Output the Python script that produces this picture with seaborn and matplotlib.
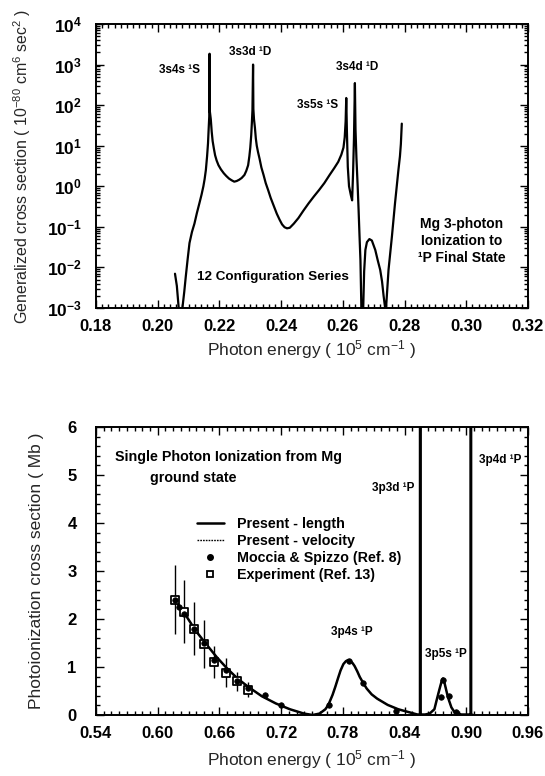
import numpy as np
import pandas as pd
import matplotlib
matplotlib.use("Agg")
import matplotlib.pyplot as plt
import seaborn as sns
from matplotlib.ticker import MultipleLocator, LogLocator, FuncFormatter, NullFormatter, FormatStrFormatter
from matplotlib.lines import Line2D

# ---------------- data ----------------
# Top panel: Mg 3-photon generalized cross section (10^-80 cm^6 s^2)
three_x = [0.2056, 0.2062, 0.2068, 0.2074,
           0.2080, 0.2086, 0.2091, 0.2097, 0.2103, 0.2111, 0.2119, 0.2127, 0.2135, 0.2142,
           0.2148, 0.2152, 0.2156, 0.2160, 0.2163, 0.2165, 0.2167, 0.2168,
           0.2169, 0.2172, 0.2175, 0.2178, 0.2182, 0.2186, 0.2191, 0.2197, 0.2205, 0.2214,
           0.2222, 0.2231, 0.2240, 0.2248, 0.2256, 0.2264, 0.2272, 0.2281, 0.2287, 0.2293,
           0.2297, 0.2300, 0.2303, 0.2305, 0.2307, 0.2309,
           0.2310, 0.2312, 0.2315, 0.2318, 0.2321, 0.2325, 0.2330, 0.2336, 0.2343, 0.2350,
           0.2358, 0.2366, 0.2376, 0.2386, 0.2395, 0.2403, 0.2411, 0.2419, 0.2428, 0.2441,
           0.2456, 0.2472, 0.2489, 0.2506, 0.2523, 0.2540, 0.2557, 0.2572, 0.2585, 0.2595,
           0.2602, 0.2606, 0.2609, 0.2611,
           0.2613, 0.2616, 0.2620, 0.2626, 0.2630, 0.2633, 0.2636, 0.2639,
           0.2641, 0.2644, 0.2648, 0.2651, 0.2654, 0.2657, 0.2660, 0.2663,
           0.2666, 0.2669, 0.2673, 0.2678, 0.2686, 0.2694, 0.2705, 0.2713, 0.2721, 0.2727,
           0.2732, 0.2737, 0.2738,
           0.2740, 0.2748, 0.2759, 0.2769, 0.2780, 0.2785, 0.2788, 0.2791]
three_y = [7.0e-3, 3.5e-3, 1.0e-3, 1.0e-5,
           1.0e-3, 2.5e-3, 6.0e-3, 1.6e-2, 4.0e-2, 7.5e-2, 0.12, 0.22, 0.38, 0.62,
           1.0, 1.5, 2.5, 5.5, 11.5, 25, 52, 1850,
           70, 45, 22, 13, 8.5, 5.8, 4.3, 3.3, 2.6, 2.1,
           1.8, 1.55, 1.4, 1.3, 1.35, 1.45, 1.6, 1.9, 2.4, 3.3,
           5.5, 9.0, 18, 35, 75, 1000,
           80, 45, 28, 15, 10, 7.0, 4.8, 2.9, 1.9, 1.2,
           0.8, 0.52, 0.33, 0.21, 0.15, 0.115, 0.098, 0.092, 0.095, 0.12,
           0.165, 0.25, 0.38, 0.56, 0.81, 1.2, 1.9, 2.8, 4.0, 6.0,
           9.0, 16, 40, 150,
           25, 3.0, 1.0, 0.6, 0.45, 2.0, 15, 350,
           25, 5.0, 1.0, 0.26, 0.06, 0.015, 1.0e-3, 1.0e-5,
           1.0e-3, 8.0e-3, 2.7e-2, 4.2e-2, 5.0e-2, 4.6e-2, 2.7e-2, 1.5e-2, 8.7e-3, 4.5e-3,
           2.0e-3, 1.0e-3, 1.0e-5,
           1.0e-3, 8.7e-3, 5.8e-2, 0.38, 2.5, 5.5, 11, 35]
top_labels = ["3s4s \u00b9S", "3s3d \u00b9D", "3s5s \u00b9S", "3s4d \u00b9D"]
top_label_x = [0.2072, 0.2299, 0.2519, 0.2646]
top_label_y = [740, 2040, 100, 870]

# Bottom panel: single-photon ionization cross section (Mb)
single_x = [0.6164, 0.6266, 0.6368, 0.6470, 0.6572, 0.6674, 0.6776, 0.6878, 0.7013, 0.7149,
            0.7285, 0.7421, 0.7506, 0.7574, 0.7630, 0.7659, 0.7700, 0.7727, 0.7755, 0.7778,
            0.7805, 0.7829, 0.7850, 0.7870, 0.7895, 0.7914, 0.7940, 0.7965, 0.8000, 0.8032,
            0.8080, 0.8134, 0.8236, 0.8338, 0.8440, 0.8525, 0.8550, 0.8552, 0.8554, 0.8600,
            0.8644, 0.8690, 0.8712, 0.8730, 0.8746, 0.8760, 0.8773, 0.8785, 0.8797, 0.8815,
            0.8831, 0.8855, 0.8882, 0.8950, 0.9043, 0.9045, 0.9047, 0.9068]
length_y = [2.41, 2.10, 1.76, 1.48, 1.21, 0.97, 0.76, 0.59, 0.39, 0.24,
            0.12, 0.03, 0.0, 0.03, 0.12, 0.21, 0.42, 0.59, 0.78, 0.93,
            1.06, 1.12, 1.145, 1.13, 1.08, 1.02, 0.91, 0.79, 0.66, 0.55,
            0.43, 0.34, 0.21, 0.12, 0.06, 0.01, 0.01, 40.0, 0.01, 0.01,
            0.03, 0.12, 0.31, 0.46, 0.59, 0.70, 0.76, 0.70, 0.59, 0.43,
            0.31, 0.16, 0.07, 0.01, 0.01, 40.0, 0.01, 0.0]
velocity_y = [2.41, 2.10, 1.76, 1.48, 1.21, 0.97, 0.76, 0.59, 0.39, 0.24,
              0.12, 0.03, 0.0, 0.03, 0.12, 0.21, 0.42, 0.59, 0.78, 0.93,
              1.06, 1.12, 1.145, 1.13, 1.08, 1.02, 0.91, 0.79, 0.66, 0.55,
              0.43, 0.34, 0.21, 0.12, 0.06, 0.01, 0.01, 40.0, 0.01, 0.01,
              0.03, 0.12, 0.31, 0.46, 0.59, 0.70, 0.76, 0.70, 0.59, 0.43,
              0.31, 0.16, 0.07, 0.01, 0.01, 40.0, 0.01, 0.0]
ms_x = [0.617, 0.621, 0.626, 0.635, 0.645, 0.655, 0.666, 0.677, 0.688, 0.704, 0.720,
        0.767, 0.786, 0.800, 0.832, 0.875, 0.877, 0.883, 0.890]
ms_y = [2.40, 2.25, 2.10, 1.80, 1.50, 1.15, 0.93, 0.70, 0.56, 0.42, 0.21,
        0.21, 1.13, 0.66, 0.08, 0.37, 0.73, 0.40, 0.07]
exp_x = [0.617, 0.626, 0.635, 0.645, 0.655, 0.666, 0.677, 0.688]
exp_y = [2.40, 2.15, 1.80, 1.47, 1.10, 0.88, 0.70, 0.53]
exp_err = [0.72, 0.66, 0.55, 0.50, 0.33, 0.30, 0.20, 0.16]
bottom_labels = ["3p4s \u00b9P", "3p3d \u00b9P", "3p5s \u00b9P", "3p4d \u00b9P"]
bottom_label_x = [0.7889, 0.8288, 0.8803, 0.9328]
bottom_label_y = [1.73, 4.73, 1.27, 5.31]
legend_labels = ["Present - length", "Present - velocity",
                 "Moccia & Spizzo (Ref. 8)", "Experiment (Ref. 13)"]

# ---------------- style ----------------
sns.set_theme(style="white")
plt.rcParams["font.family"] = ["Liberation Sans", "DejaVu Sans"]
plt.rcParams["font.weight"] = "bold"
plt.rcParams["mathtext.fontset"] = "custom"
plt.rcParams["mathtext.rm"] = "Liberation Sans"
plt.rcParams["mathtext.it"] = "Liberation Sans:italic"
plt.rcParams["mathtext.bf"] = "Liberation Sans:bold"
plt.rcParams["mathtext.default"] = "regular"
plt.rcParams["axes.edgecolor"] = "black"
plt.rcParams["text.color"] = "black"

fig = plt.figure(figsize=(5.45, 7.76), dpi=100)
W, H = 545.0, 776.0
L, R = 96.0, 528.0
ax1 = fig.add_axes([L / W, 1 - 308 / H, (R - L) / W, (308 - 24) / H])
ax2 = fig.add_axes([L / W, 1 - 715 / H, (R - L) / W, (715 - 427) / H])

for ax in (ax1, ax2):
    ax.set_facecolor("white")
    for s in ax.spines.values():
        s.set_linewidth(1.4)
        s.set_color("black")

# ---------------- top panel ----------------
df_top = pd.DataFrame({"x": three_x, "y": three_y})
ax1.set_yscale("log")
sns.lineplot(data=df_top, x="x", y="y", ax=ax1, sort=False, estimator=None,
             color="black", linewidth=1.6)
ax1.set_xlim(0.18, 0.32)
ax1.set_ylim(1e-3, 1e4)
ax1.xaxis.set_major_locator(MultipleLocator(0.02))
ax1.xaxis.set_minor_locator(MultipleLocator(0.002))
ax1.xaxis.set_major_formatter(FormatStrFormatter("%.2f"))
ax1.yaxis.set_major_locator(LogLocator(base=10, numticks=20))
ax1.yaxis.set_minor_locator(LogLocator(base=10, subs=np.arange(2, 10), numticks=40))
ax1.yaxis.set_minor_formatter(NullFormatter())
ax1.yaxis.set_major_formatter(FuncFormatter(
    lambda v, p: r"$\mathregular{10^{%d}}$" % int(round(np.log10(v)))))
ax1.set_xlabel("Photon energy ( 10$^{5}$ cm$^{-1}$ )", fontsize=12.5, fontweight="normal")
ax1.set_ylabel("Generalized cross section ( 10$^{-80}$ cm$^{6}$ sec$^{2}$ )",
               fontsize=11.5, fontweight="normal")
ax1.xaxis.set_label_coords(0.5, -0.105)
ax1.yaxis.set_label_coords(-0.145, 0.5)

for t, x, y in zip(top_labels, top_label_x, top_label_y):
    ax1.text(x, y, t, fontsize=8.5, ha="center", va="center", fontweight="bold")
ax1.text(0.2374, 5.8e-3, "12 Configuration Series", fontsize=9.7, ha="center",
         va="center", fontweight="bold")
ax1.text(0.2986, 0.045, "Mg 3-photon\nIonization to\n\u00b9P Final State", fontsize=10,
         ha="center", va="center", multialignment="center", linespacing=1.25,
         fontweight="bold")

# ---------------- bottom panel ----------------
df_len = pd.DataFrame({"x": single_x, "y": length_y})
df_vel = pd.DataFrame({"x": single_x, "y": velocity_y})
sns.lineplot(data=df_len, x="x", y="y", ax=ax2, sort=False, estimator=None,
             color="black", linewidth=1.8)
sns.lineplot(data=df_vel, x="x", y="y", ax=ax2, sort=False, estimator=None,
             color="black", linewidth=0.8, linestyle=(0, (1.5, 1.0)))
ax2.errorbar(exp_x, exp_y, yerr=exp_err, fmt="none", ecolor="black", elinewidth=1.0,
             capsize=0)
sns.scatterplot(x=exp_x, y=exp_y, ax=ax2, marker="s", s=28, facecolor="white",
                edgecolor="black", linewidth=1.3, zorder=4)
sns.scatterplot(x=ms_x, y=ms_y, ax=ax2, marker="o", s=16, color="black",
                edgecolor="black", linewidth=0.5, zorder=5)
ax2.set_xlim(0.54, 0.96)
ax2.set_ylim(0, 6)
ax2.xaxis.set_major_locator(MultipleLocator(0.06))
ax2.xaxis.set_minor_locator(MultipleLocator(0.0075))
ax2.xaxis.set_major_formatter(FormatStrFormatter("%.2f"))
ax2.yaxis.set_major_locator(MultipleLocator(1))
ax2.yaxis.set_minor_locator(MultipleLocator(0.2))
ax2.yaxis.set_major_formatter(FormatStrFormatter("%d"))
ax2.set_xlabel("Photon energy ( 10$^{5}$ cm$^{-1}$ )", fontsize=12.5, fontweight="normal")
ax2.set_ylabel("Photoionization cross section ( Mb )", fontsize=12.5, fontweight="normal")
ax2.xaxis.set_label_coords(0.5, -0.115)
ax2.yaxis.set_label_coords(-0.12, 0.5)

ax2.text(0.5585, 5.375, "Single Photon Ionization from Mg", fontsize=10.3,
         ha="left", va="center", fontweight="bold")
ax2.text(0.5925, 4.94, "ground state", fontsize=10.3, ha="left", va="center",
         fontweight="bold")
for t, x, y in zip(bottom_labels, bottom_label_x, bottom_label_y):
    ax2.text(x, y, t, fontsize=8.5, ha="center", va="center", fontweight="bold")

handles = [
    Line2D([], [], color="black", linewidth=1.8),
    Line2D([], [], color="black", linewidth=1.0, linestyle=(0, (1.2, 0.8))),
    Line2D([], [], color="black", marker="o", linestyle="none", markersize=4),
    Line2D([], [], color="black", marker="s", linestyle="none", markersize=5,
           markerfacecolor="white", markeredgewidth=1.3),
]
ax2.legend(handles, legend_labels, loc="upper left", bbox_to_anchor=(0.233, 0.688),
           frameon=False, fontsize=10.3, handlelength=1.9, handletextpad=0.9,
           labelspacing=0.22, borderpad=0, borderaxespad=0)

# ---------------- ticks ----------------
for ax in (ax1, ax2):
    ax.tick_params(which="both", direction="in", top=True, right=True,
                   bottom=True, left=True, colors="black", width=1.0)
    ax.tick_params(which="major", length=6, labelsize=12, pad=8)
    ax.tick_params(which="minor", length=3)
ax1.tick_params(axis="y", which="major", pad=10, labelsize=12.5)
ax2.tick_params(axis="y", which="major", pad=14)

fig.savefig("out.png", dpi=100, facecolor="white")
